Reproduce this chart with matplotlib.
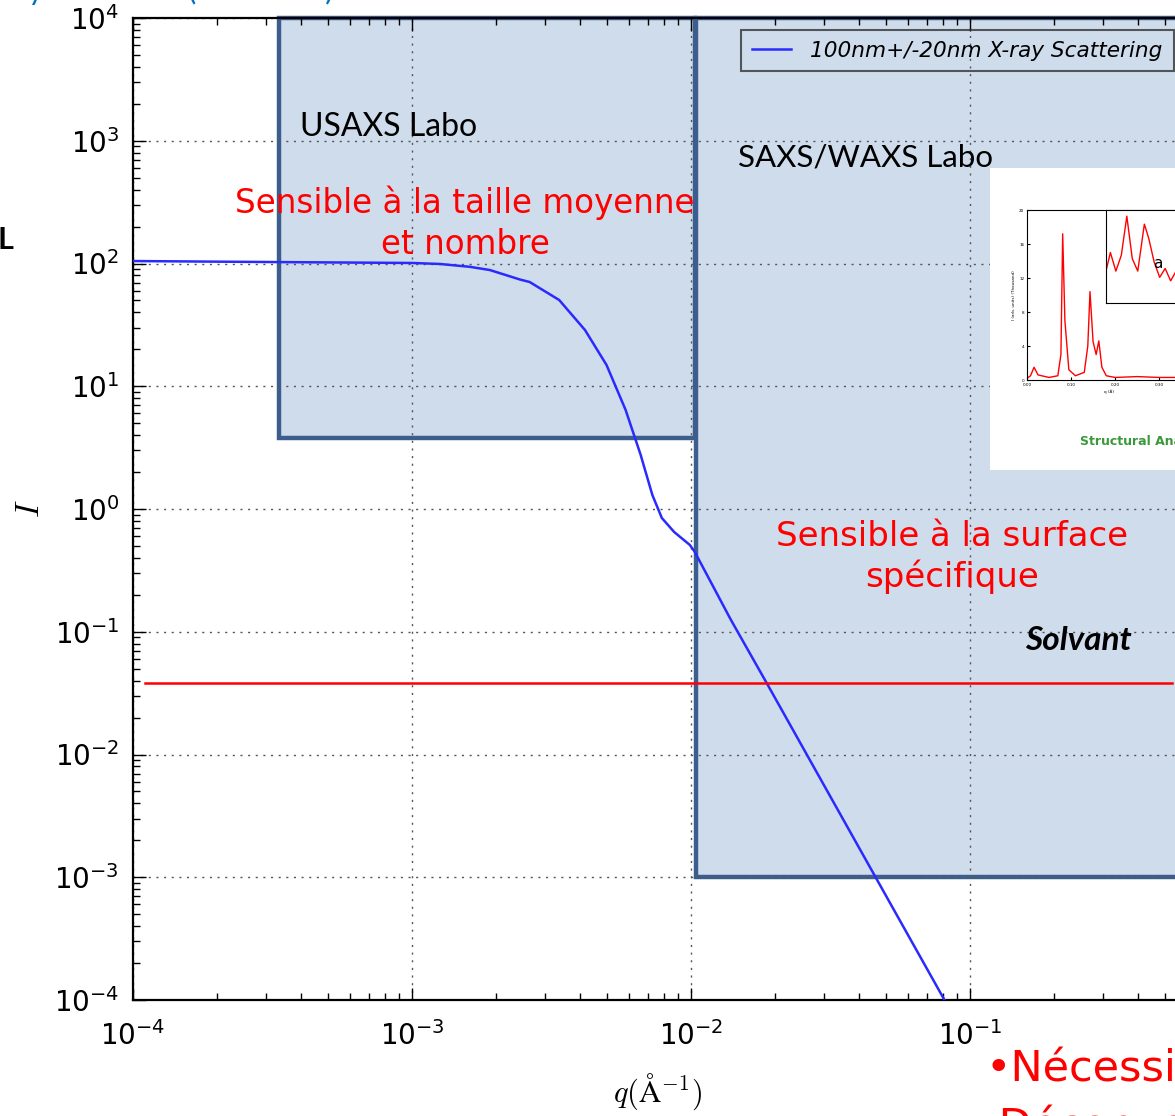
import matplotlib.pyplot as plt
from matplotlib.patches import Rectangle

plt.rcParams['axes.unicode_minus'] = False

# ---- data ----
# scattering curve (log-log), 100nm +/- 20nm spheres
q = [1.0e-4, 3.3e-4, 1.0e-3, 1.26e-3, 1.61e-3, 1.9e-3, 2.44e-3, 2.64e-3,
     3.37e-3, 4.17e-3, 4.98e-3, 5.83e-3, 6.6e-3, 7.27e-3, 7.86e-3, 8.7e-3,
     9.9e-3, 1.03e-2, 1.39e-2, 1.87e-2, 4.6e-2, 8.1e-2]
intensity = [104.7, 102.7, 101.0, 99.1, 94.0, 88.5, 74.0, 70.7,
             50.4, 28.7, 14.9, 6.41, 2.76, 1.30, 0.845, 0.65,
             0.51, 0.45, 0.125, 0.038, 9.9e-4, 1.0e-4]

solvant_q = [1.1e-4, 0.53]
solvant_level = 0.038

# q ranges of the two instruments (q_min, q_max, I_min)
usaxs_range = [3.33e-4, 1.03e-2, 3.78]
saxs_range = [1.04e-2, 3.0, 1.0e-3]

legend_label = '100nm+/-20nm X-ray Scattering'

# small picture pasted on the right (diffraction peaks)
inset_q = [0.0, 0.008, 0.016, 0.025, 0.05, 0.07, 0.077, 0.081, 0.086, 0.095,
           0.11, 0.13, 0.138, 0.143, 0.15, 0.157, 0.163, 0.17, 0.18, 0.2,
           0.25, 0.3, 0.35]
inset_I = [0.2, 0.5, 1.5, 0.6, 0.3, 0.5, 3.0, 17.2, 7.0, 1.2,
           0.5, 0.9, 4.0, 10.4, 4.5, 3.0, 4.6, 1.5, 0.5, 0.3,
           0.4, 0.3, 0.3]
zoom_x = [0, 12, 27, 42, 57, 72, 87, 105, 117, 132, 147, 162, 177, 192, 202]
zoom_y = [0.36, 0.57, 0.36, 0.54, 0.98, 0.5, 0.36, 0.89, 0.73, 0.46, 0.29,
          0.39, 0.25, 0.36, 0.29]

W, H = 1175, 1116


def fx(x):
    return x / W


def fy(y):
    return 1 - y / H


fig = plt.figure(figsize=(W / 100, H / 100), dpi=100)
ax = fig.add_axes([fx(133), fy(1000), 1116 / W, 982 / H])

box_face = '#cfdcec'
box_edge = '#3c5e8e'
ax.add_patch(Rectangle((usaxs_range[0], usaxs_range[2]),
                       usaxs_range[1] - usaxs_range[0], 1e4 - usaxs_range[2],
                       facecolor=box_face, edgecolor=box_edge, lw=3.2,
                       zorder=1, clip_on=False))
ax.add_patch(Rectangle((saxs_range[0], saxs_range[2]),
                       saxs_range[1] - saxs_range[0], 1e4 - saxs_range[2],
                       facecolor=box_face, edgecolor=box_edge, lw=3.2,
                       zorder=1, clip_on=False))

ax.plot(q, intensity, color='#2a2aff', lw=1.8, label=legend_label, zorder=3)
ax.plot(solvant_q, [solvant_level, solvant_level], color='red', lw=1.8,
        zorder=3, clip_on=False)

ax.set_xscale('log')
ax.set_yscale('log')
ax.set_xlim(1e-4, 1e0)
ax.set_ylim(1e-4, 1e4)
ax.grid(True, which='major', linestyle=(0, (1.5, 4)), color='#555555', lw=1.0)
ax.tick_params(which='both', direction='in', top=True, right=True,
               labelsize=20, width=1.0)
ax.tick_params(which='major', length=9)
ax.tick_params(axis='x', which='major', pad=15)
ax.tick_params(axis='y', which='major', pad=10)
ax.tick_params(which='minor', length=5)
for s in ax.spines.values():
    s.set_linewidth(1.6)

ax.set_xlabel(r'$q(\mathrm{\AA}^{-1})$', fontsize=22, math_fontfamily='cm')
ax.set_ylabel(r'$I$', fontsize=24, math_fontfamily='cm')
ax.xaxis.set_label_coords((658 - 133) / 1116, -(1072 - 1000) / 982)
ax.yaxis.set_label_coords(-(133 - 46) / 1116, 0.5)

leg = ax.legend(loc='upper left', bbox_to_anchor=((741 - 133) / 1116, 0.988),
                prop={'style': 'italic', 'size': 15.6}, facecolor='none',
                framealpha=None, edgecolor='#333333', fancybox=False,
                handlelength=1.8, handletextpad=0.9, borderpad=0.5,
                borderaxespad=0)
leg.get_frame().set_linewidth(1.5)

# annotations of the slide
calibri = ['Lato', 'DejaVu Sans']
comic = ['DejaVu Sans']
fig.text(fx(300), fy(127), 'USAXS Labo', fontsize=23, family=calibri,
         va='center', ha='left')
fig.text(fx(738), fy(157), 'SAXS/WAXS Labo', fontsize=22.5, family=calibri,
         va='center', ha='left')
fig.text(fx(465), fy(223), 'Sensible à la taille moyenne\net nombre',
         fontsize=23.5, family=comic, color='red', ha='center', va='center',
         linespacing=1.3)
fig.text(fx(952), fy(557), 'Sensible à la surface\nspécifique',
         fontsize=24.5, family=comic, color='red', ha='center', va='center',
         linespacing=1.25)
fig.text(fx(1025), fy(640), 'Solvant', fontsize=24, family=calibri,
         style='italic', weight='bold', va='center', ha='left')
fig.text(fx(985), fy(1048), '•Nécessite\n Déconvolution', fontsize=31,
         family=comic, color='red', va='top', ha='left', linespacing=1.5)
fig.text(fx(-2), fy(240), 'L', fontsize=22, family=calibri, weight='bold',
         va='center', ha='left')
fig.text(fx(-6), fy(-10), 'Rayonnement (du LIGNE)', fontsize=22,
         family=calibri, color='#0070c0', va='center', ha='left')

# pasted picture
pic = fig.add_axes([fx(990), fy(470), (1180 - 990) / W, (470 - 168) / H])
pic.set_facecolor('white')
pic.set_xticks([])
pic.set_yticks([])
for s in pic.spines.values():
    s.set_visible(False)
pic.text(90 / 190, (470 - 442) / 302, 'Structural Analysis', color='#3a9a3a',
         fontsize=9, weight='bold', ha='left', va='center',
         transform=pic.transAxes, clip_on=True)

sub = fig.add_axes([fx(1027), fy(380), (1190 - 1027) / W, (380 - 210) / H])
sub.plot(inset_q, inset_I, color='red', lw=1.0)
sub.set_xlim(0, 0.37)
sub.set_ylim(0, 20)
sub.set_xticks([0, 0.1, 0.2, 0.3])
sub.set_xticklabels(['0.00', '0.10', '0.20', '0.30'])
sub.set_yticks([0, 4, 8, 12, 16, 20])
sub.tick_params(labelsize=3, length=2, direction='in', pad=2)
sub.set_ylabel('I (arb. units) (Thousand)', fontsize=3, labelpad=2)
sub.set_xlabel('q (Å)', fontsize=3, labelpad=2)

sub2 = fig.add_axes([fx(1106), fy(303), (1190 - 1106) / W, (303 - 210) / H])
sub2.plot(zoom_x, zoom_y, color='red', lw=1.0)
sub2.set_xlim(0, 230)
sub2.set_ylim(0, 1.05)
sub2.set_xticks([])
sub2.set_yticks([])
sub2.text(128, 0.45, 'a', fontsize=11, color='black', ha='left', va='center')

fig.savefig('out.png', dpi=100)
